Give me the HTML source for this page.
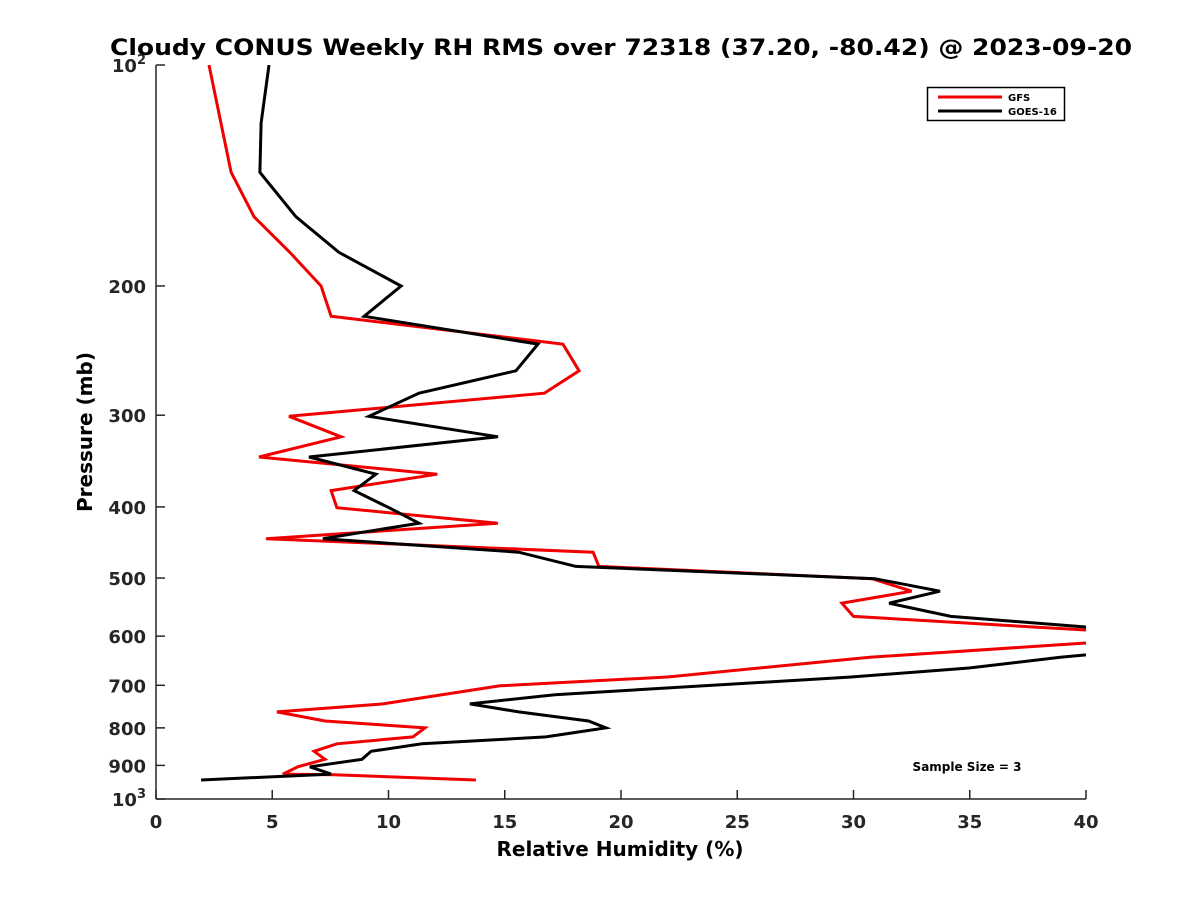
<!DOCTYPE html>
<html><head><meta charset="utf-8"><style>
body{margin:0;background:#fff;}
svg text{font-family:"DejaVu Sans","Liberation Sans",sans-serif;font-weight:bold;}
</style></head><body>
<svg id="chart" width="1200" height="900" xmlns="http://www.w3.org/2000/svg">
<defs><clipPath id="plotclip"><rect x="156" y="65" width="930" height="734"/></clipPath></defs>
<text x="621" y="55" font-size="22" text-anchor="middle" textLength="1022" lengthAdjust="spacingAndGlyphs">Cloudy CONUS Weekly RH RMS over 72318 (37.20, -80.42) @ 2023-09-20</text>
<g id="axes"></g>
<g id="series" clip-path="url(#plotclip)"></g>
<text x="967" y="771" font-size="12" text-anchor="middle">Sample Size = 3</text>
<g>
<rect x="927.5" y="87.5" width="137" height="33" fill="#fff" stroke="#000" stroke-width="1.5"/>
<line x1="938" y1="97" x2="1002" y2="97" stroke="#f00000" stroke-width="3"/>
<text x="1008" y="101" font-size="10">GFS</text>
<line x1="938" y1="111" x2="1002" y2="111" stroke="#000" stroke-width="3"/>
<text x="1008" y="115" font-size="10">GOES-16</text>
</g>
<text x="620" y="856" font-size="20" text-anchor="middle">Relative Humidity (%)</text>
<text transform="translate(92,432) rotate(-90)" font-size="20" text-anchor="middle">Pressure (mb)</text>
</svg>
<script>
const gfsPressure=[100,140,161,180,200,220,240,261,280,301,321,342,361,380,401,421,442,461,482,501,521,541,564,600,641,682,701,742,761,783,800,823,841,861,883,904,925,927,942];
const gfsRH=[2.28,3.23,4.22,5.76,7.10,7.53,17.5,18.2,16.7,5.72,7.96,4.43,12.1,7.53,7.78,14.7,4.73,18.8,19.05,30.8,32.5,29.5,30.0,44.5,30.7,22.0,14.8,9.76,5.2,7.27,11.57,11.05,7.78,6.8,7.27,6.1,5.46,7.66,13.76];
const goesPressure=[100,120,140,161,180,200,220,240,261,280,301,321,342,361,380,401,421,442,461,482,501,521,541,564,607,641,663,682,721,742,761,783,800,823,841,861,883,904,925,942];
const goesRH=[4.86,4.52,4.47,6.02,7.87,10.54,8.95,16.43,15.48,11.31,9.16,14.71,6.58,9.46,8.52,10.02,11.31,7.18,15.6,18.06,30.92,33.72,31.53,34.19,47,38.9,34.97,29.9,17.16,13.5,15.6,18.6,19.35,16.77,11.44,9.25,8.86,6.62,7.53,1.94];
const xTicks=[0,5,10,15,20,25,30,35,40];
const yTicks=[100,200,300,400,500,600,700,800,900,1000];
const yTickLabels=["10^2","200","300","400","500","600","700","800","900","10^3"];

const X0=156,X1=1086,Y0=65,Y1=799;
const sx=v=>X0+(v-0)/(40-0)*(X1-X0);
const sy=p=>Y0+(Math.log10(p)-2)*(Y1-Y0);
const NS="http://www.w3.org/2000/svg";
function mk(tag,attrs,parent){const e=document.createElementNS(NS,tag);for(const k in attrs)e.setAttribute(k,attrs[k]);parent.appendChild(e);return e;}
const axes=document.getElementById('axes');
const series=document.getElementById('series');
let a=mk('line',{x1:X0,y1:Y0,x2:X0,y2:Y1,stroke:'#262626','stroke-width':1.5},axes);


a=mk('line',{x1:X0,y1:Y1,x2:X1,y2:Y1,stroke:'#262626','stroke-width':1.5},axes);


xTicks.forEach(v=>{
  const t=mk('line',{x1:sx(v),y1:Y1,x2:sx(v),y2:Y1-9,stroke:'#262626','stroke-width':1.5},axes);
  
  
  const l=mk('text',{x:sx(v),y:Y1+29,'font-size':18,'text-anchor':'middle',fill:'#262626'},axes);
  l.textContent=v;
  
  
});
yTicks.forEach((p,i)=>{
  const t=mk('line',{x1:X0,y1:sy(p),x2:X0+9,y2:sy(p),stroke:'#262626','stroke-width':1.5},axes);
  
  
  const lab=yTickLabels[i];
  const l=mk('text',{x:X0-10,y:sy(p)+7,'font-size':18,'text-anchor':'end',fill:'#262626'},axes);
  if(lab.indexOf('^')>=0){
    const parts=lab.split('^');
    const b=mk('tspan',{},l);b.textContent=parts[0];
    const s=mk('tspan',{dy:-8,'font-size':13},l);s.textContent=parts[1];
  } else l.textContent=lab;
  
  
});
function line(ps,vs,color,name){
  const d=vs.map((v,i)=>(i?'L':'M')+sx(v).toFixed(1)+','+sy(ps[i]).toFixed(1)).join('');
  const e=mk('path',{d:d,fill:'none',stroke:color,'stroke-width':3,'stroke-linejoin':'miter'},series);
  
  
}
line(gfsPressure,gfsRH,'#f00000','gfs-line');
line(goesPressure,goesRH,'#000000','goes16-line');
</script>
</body></html>
